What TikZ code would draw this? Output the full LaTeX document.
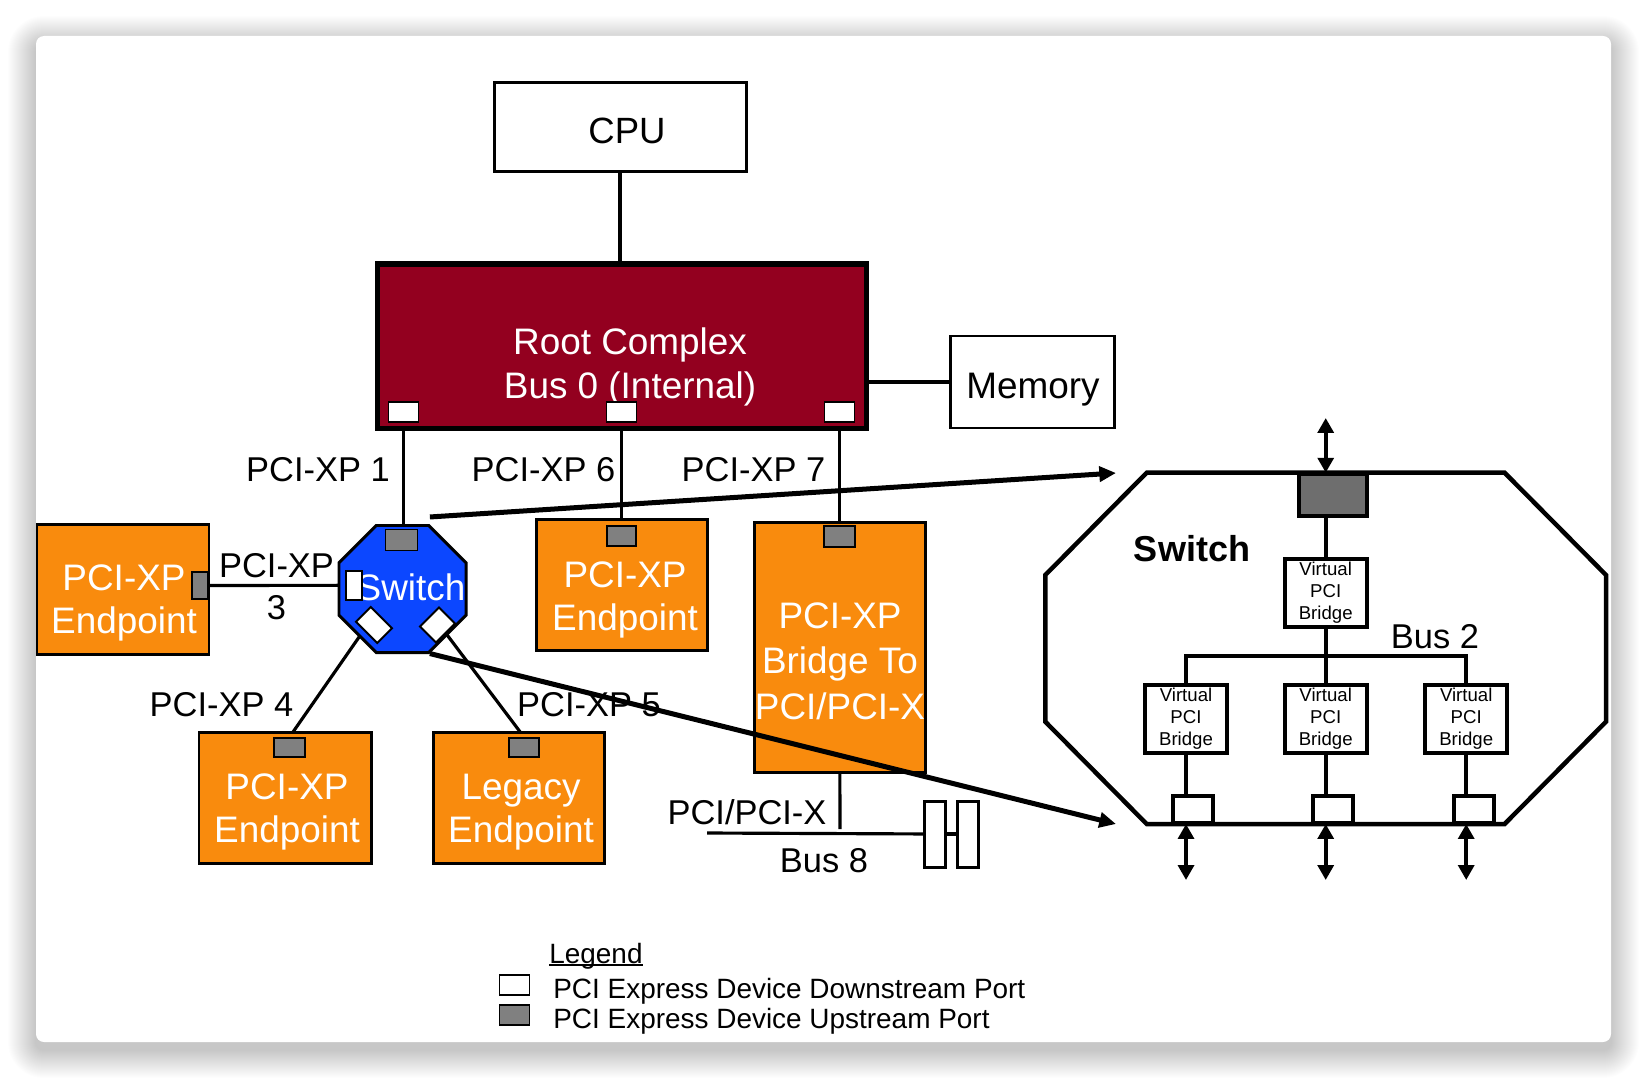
\documentclass[tikz,border=0pt]{standalone}
\usepackage{fontspec}
\setmainfont{Liberation Sans}
\usetikzlibrary{shapes.geometric,arrows.meta}
\definecolor{rcred}{HTML}{93001F}
\definecolor{eporange}{HTML}{F98B0D}
\definecolor{swblue}{HTML}{0C47FF}
\definecolor{portgray}{HTML}{808080}
\definecolor{bigportgray}{HTML}{6E6E6E}
\pgfdeclarelayer{card}
\pgfdeclarelayer{wires}
\pgfsetlayers{card,wires,main}
\newcommand{\bigtxt}{\fontsize{21}{24.8}\selectfont}
\newcommand{\lbltxt}{\fontsize{19.6}{24}\selectfont}
\newcommand{\vpbtxt}{\fontsize{10.6}{12.5}\selectfont}
\newcommand{\legtxt}{\fontsize{15.9}{19}\selectfont}
\newcommand{\legul}[1]{\sbox0{#1}\rlap{\rule[-1.3pt]{\wd0}{0.8pt}}\usebox0}
\tikzset{
  sz/.style 2 args={minimum width=#1*0.02cm, minimum height=#2*0.02cm},
  box/.style={draw, line width=1.7pt, inner sep=0pt},
  ep/.style={box, fill=eporange},
  dport/.style={draw, line width=1.1pt, fill=white, inner sep=0pt},
  uport/.style={dport, fill=portgray},
  vpb/.style={box, line width=2.3pt, fill=white, sz={82}{68}, font=\vpbtxt, align=center},
  zport/.style={box, line width=2.3pt, fill=white, sz={40}{27}},
  wtxt/.style={text=white, font=\bigtxt, align=center, inner sep=0pt},
  btxt/.style={font=\lbltxt, inner sep=0pt, anchor=base},
  ltxt/.style={font=\legtxt, inner sep=0pt, anchor=base west},
  wire/.style={line width=1.8pt},
  zoomarrow/.style={line width=2.85pt, -{Triangle[length=9.5pt,width=8.5pt]}},
  dbl/.style={line width=2.3pt, {Triangle[length=8.5pt,width=9pt]}-{Triangle[length=8.5pt,width=9pt]}}
}
\begin{document}
\begin{tikzpicture}[x=0.02cm, y=-0.02cm]
      \useasboundingbox (0,0) rectangle (1648,1078);
      \begin{pgfonlayer}{card}
        \fill[white] (0,0) rectangle (1648,1078);
        \foreach \i in {1,...,28} {
          \pgfmathsetmacro\rr{(8+\i)*0.02}
          \fill[black, opacity=0.009, rounded corners=\rr cm] (36-\i,44-\i) rectangle (1611+\i,1050+\i);
        }
        \fill[white, rounded corners=0.16cm] (36,36) rectangle (1611,1042);
      \end{pgfonlayer}
      \node[box, sz={252}{89}] (cpu) at (620,127) {};
      \node[font=\fontsize{20.8}{24}\selectfont, anchor=base, inner sep=0pt] (cputxt) at (627,143.7) {CPU};
      \node[box, line width=2.85pt, fill=rcred, sz={489}{164}] (rc) at (621.5,346) {};
      \node[wtxt] (rctxt) at (630,367) {Root Complex\\Bus 0 (Internal)};
      \node[box, sz={164}{92}] (mem) at (1032,382) {};
      \node[font=\bigtxt, anchor=base, inner sep=0pt] (memtxt) at (1033,398.8) {Memory};
      \node[dport, sz={30}{20}] (p1) at (403.5,412) {};
      \node[dport, sz={30}{20}] (p6) at (621.5,412) {};
      \node[dport, sz={30}{20}] (p7) at (839.5,412) {};
      \node[btxt] (l1) at (318,481.4) {PCI-XP 1};
      \node[btxt] (l6) at (543.5,481.4) {PCI-XP 6};
      \node[btxt] (l7) at (753.5,481.4) {PCI-XP 7};
      \node[btxt] (l4) at (221.5,716.4) {PCI-XP 4};
      \node[btxt] (l5) at (589,716.4) {PCI-XP 5};
      \node[font=\lbltxt, align=center, inner sep=0pt] (l3) at (276.5,587) {PCI-XP\\3};
      \node[regular polygon, regular polygon sides=8, minimum size=2.75cm, inner sep=0pt, draw, line width=1.7pt, fill=swblue] (sw) at (402.5,589) {};
      \node[font=\bigtxt, text=white, anchor=base, inner sep=0pt] (swtxt) at (411,600) {Switch};
      \node[uport, sz={32}{21}] (swup) at (401.5,540) {};
      \node[dport, sz={16}{29}] (swdn3) at (354,585.3) {};
      \node[dport, sz={30}{21}, rotate=-45] (swdn4) at (374,625) {};
      \node[dport, sz={27}{22.5}, rotate=45] (swdn5) at (437.5,625) {};
      \node[ep, sz={172}{130}] (ep3) at (123,589) {};
      \node[uport, sz={16}{27}] (ep3up) at (200,585.5) {};
      \node[wtxt] (ep3txt) at (124,603) {PCI-XP\\Endpoint};
      \node[ep, sz={171}{131}] (ep6) at (621.5,584.5) {};
      \node[uport, sz={29}{20}] (ep6up) at (621.5,536) {};
      \node[wtxt] (ep6txt) at (625,600) {PCI-XP\\Endpoint};
      \node[ep, sz={171}{250}] (br) at (839.5,647.7) {};
      \node[uport, sz={31}{21}] (brup) at (839.5,536.4) {};
      \node[wtxt, font=\fontsize{21}{26}\selectfont] (brtxt) at (840,661) {PCI-XP\\Bridge To\\PCI/PCI-X};
      \node[ep, sz={172}{131}] (ep4) at (285,797.5) {};
      \node[uport, sz={31}{19}] (ep4up) at (289.5,747.5) {};
      \node[wtxt] (ep4txt) at (287,812) {PCI-XP\\Endpoint};
      \node[ep, sz={171}{131}] (leg) at (518.5,797.5) {};
      \node[uport, sz={30}{19}] (legup) at (524,747.5) {};
      \node[wtxt] (legtxt) at (521,812) {Legacy\\Endpoint};
      \coordinate (bus8) at (707,833);
      \coordinate (brbus) at (840,829);
      \node[box, fill=white, sz={21}{66}] (slot1) at (935,834) {};
      \node[box, fill=white, sz={21}{66}] (slot2) at (968,834) {};
      \node[btxt] (l8) at (747,824) {PCI/PCI-X};
      \node[btxt] (b8) at (824,872) {Bus 8};
      \draw[line width=2.55pt] (1146.7,472.7) coordinate (z1) -- (1504.6,472.7) coordinate (z2)
        -- (1606,575) coordinate (z3) -- (1606,721.7) coordinate (z4)
        -- (1504.6,824) coordinate (z5) -- (1146.7,824) coordinate (z6)
        -- (1045.3,721.7) coordinate (z7) -- (1045.3,575) coordinate (z8) -- cycle;
      \node[box, line width=2.3pt, fill=bigportgray, sz={68}{42}] (zup) at (1333,495) {};
      \node[vpb] (vt) at (1325.7,593) {Virtual\\PCI\\Bridge};
      \node[vpb] (v1) at (1186,718.8) {Virtual\\PCI\\Bridge};
      \node[vpb] (v2) at (1325.7,718.8) {Virtual\\PCI\\Bridge};
      \node[vpb] (v3) at (1466.2,718.8) {Virtual\\PCI\\Bridge};
      \node[zport] (q1) at (1193,809.5) {};
      \node[zport] (q2) at (1333,809.5) {};
      \node[zport] (q3) at (1474,809.5) {};
      \coordinate (bus2) at (1325.7,656);
      \node[font=\bfseries\fontsize{20.5}{24}\selectfont, anchor=base, inner sep=0pt] (ztitle) at (1192,561.7) {Switch};
      \node[btxt] (zbus) at (1435,648) {Bus 2};
      \coordinate (zin) at (1325.7,418);
      \coordinate (zo1) at (1186,880);
      \coordinate (zo2) at (1325.7,880);
      \coordinate (zo3) at (1466.2,880);
      \coordinate (t1) at (1116,473);
      \coordinate (t2) at (1116,824);
      \node[ltxt] (legtitle) at (549,963.3) {\legul{Legend}};
      \node[dport, sz={30}{20}] (legdn) at (514.5,985) {};
      \node[uport, sz={30}{20}] (legupb) at (514.5,1015.3) {};
      \node[ltxt] (legdntxt) at (553,998.5) {PCI Express Device Downstream Port};
      \node[ltxt] (leguptxt) at (553,1028.5) {PCI Express Device Upstream Port};
      \begin{pgfonlayer}{wires}
        \begin{scope}[wire]
          \draw (cpu) to (cpu |- rc);
          \draw (mem) to (mem -| rc);
          \draw (p1) to (p1 |- sw);
          \draw (p6) to (ep6up);
          \draw (p7) to (brup);
          \draw (ep3up) to (swdn3);
          \draw ([xshift=-0.2cm]sw.center) to (ep4up.north);
          \draw ([xshift=0.2cm]sw.center) to (legup.north);
          \draw (br) to (brbus);
          \draw (bus8) to (slot1);
          \draw (slot1) to (slot2);
        \end{scope}
        \begin{scope}[line width=2.3pt]
          \draw (vt |- zup) to (v2);
          \draw (v1) |- (bus2) -| (v3);
          \draw (v1) to (v1 |- q1);
          \draw (v2) to (v2 |- q2);
          \draw (v3) to (v3 |- q3);
        \end{scope}
      \end{pgfonlayer}
      \draw[dbl] (zin) -- (zin |- z1);
      \draw[dbl] (zo1 |- z6) -- (zo1);
      \draw[dbl] (zo2 |- z6) -- (zo2);
      \draw[dbl] (zo3 |- z6) -- (zo3);
      \draw[zoomarrow] ([yshift=0.15cm]sw.67.5) -- (t1);
      \draw[zoomarrow] (sw.-67.5) -- (t2);
    \end{tikzpicture}
\end{document}
